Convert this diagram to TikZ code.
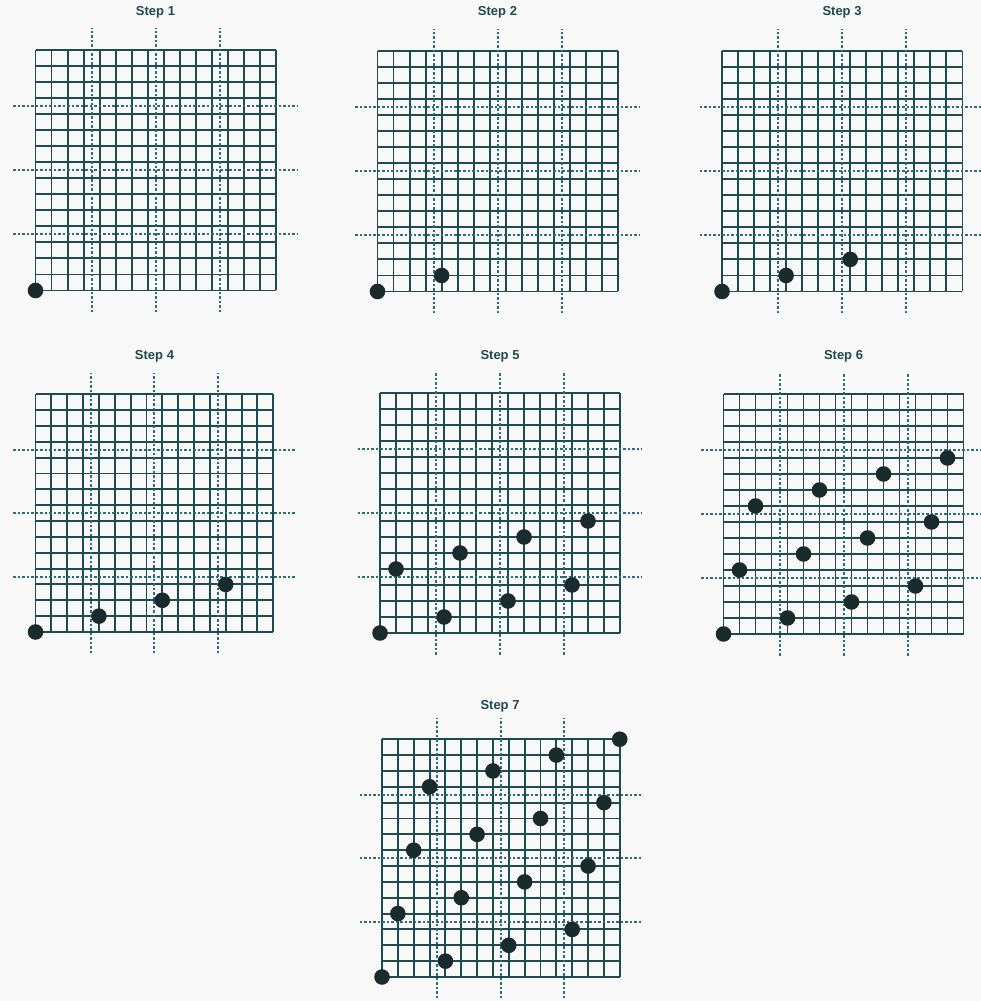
\documentclass[tikz,border=0pt]{standalone}
\usepackage{fontspec}
\setmainfont{Liberation Sans}
\definecolor{gridc}{HTML}{1E4A52}
\definecolor{dashc}{HTML}{2A6C78}
\definecolor{dotc}{HTML}{1B2A2C}
\definecolor{bgc}{HTML}{F8F8F8}
\tikzset{
  gridline/.style={draw=gridc, line width=1.9pt},
  dashline/.style={draw=dashc, line width=2pt, dash pattern=on 2.5pt off 2pt},
  sample/.style={fill=dotc},
  steptitle/.style={font=\bfseries\fontsize{13}{15}\selectfont, text=gridc, inner sep=0pt}
}
\newcommand\mypanel[7]{%
  % #1 left px, #2 bottom px, #3 cell px, #4 step number, #5 title x px, #6 title y px, #7 points
  \begin{scope}[shift={(#1pt,{(1001-#2)*1pt})}, x=#3pt, y=#3pt]
    \foreach \i in {0,...,15} {
      \draw[gridline] (\i,0) -- (\i,15);
      \draw[gridline] (0,\i) -- (15,\i);
    }
    \foreach \d in {3.5,7.5,11.5} {
      \draw[dashline] (\d,-1.35) -- (\d,16.35);
      \draw[dashline] (-1.4,\d) -- (16.4,\d);
    }
    \foreach \p/\q in {#7} {
      \fill[sample] (\p,\q) circle[radius=7.8pt];
    }
  \end{scope}
  \node[steptitle] (title#4) at (#5,{1001-#6}) {Step #4};
}
\begin{document}
\begin{tikzpicture}[x=1pt,y=1pt]
  \fill[bgc] (0,0) rectangle (981,1001);
  \useasboundingbox (0,0) rectangle (981,1001);
  \mypanel{35.5}{290.5}{16.03}{1}{155.5}{12}{0/0}
  \mypanel{377.5}{291.5}{16.03}{2}{497.5}{12}{0/0,4/1}
  \mypanel{722}{291.5}{16.03}{3}{842}{12}{0/0,4/1,8/2}
  \mypanel{35.5}{632}{15.85}{4}{154.5}{356}{0/0,4/1,8/2,12/3}
  \mypanel{380}{633}{16}{5}{500}{356}{0/0,4/1,8/2,12/3,1/4,5/5,9/6,13/7}
  \mypanel{723.5}{634}{16}{6}{843.5}{356}{0/0,4/1,8/2,12/3,1/4,5/5,9/6,13/7,2/8,6/9,10/10,14/11}
  \mypanel{382}{977}{15.85}{7}{500}{706}{0/0,4/1,8/2,12/3,1/4,5/5,9/6,13/7,2/8,6/9,10/10,14/11,3/12,7/13,11/14,15/15}
\end{tikzpicture}
\end{document}
